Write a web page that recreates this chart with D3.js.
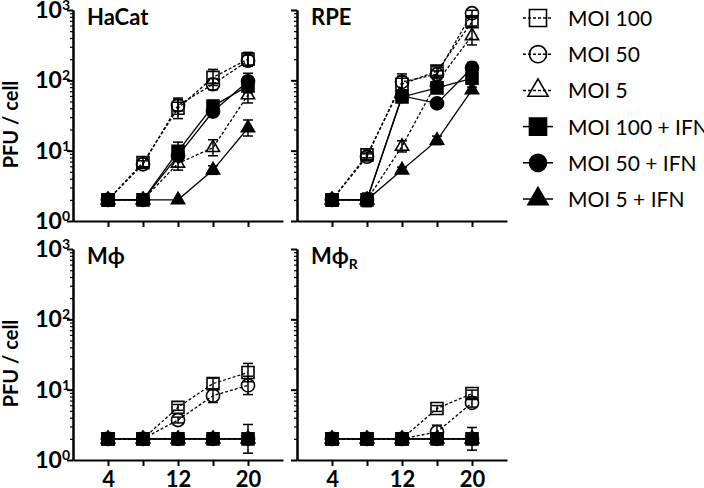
<!DOCTYPE html>
<html lang="en">
<head>
<meta charset="UTF-8">
<title>PFU / cell</title>
<script src="https://cdnjs.cloudflare.com/ajax/libs/d3/7.8.5/d3.min.js"></script>
<style>
  body { margin: 0; background: #fff; }
  text { font-family: Lato, "Open Sans", sans-serif; fill: #000; }
</style>
</head>
<body>
<script>
// hours post infection
const hours = [4, 8, 12, 16, 20];
const tickLabels = ["4", "", "12", "", "20"];
const seriesNames = ["MOI 100", "MOI 50", "MOI 5", "MOI 100 + IFN", "MOI 50 + IFN", "MOI 5 + IFN"];
const seriesShapes = ["square", "circle", "triangle", "square", "circle", "triangle"];
const seriesFilled = [false, false, false, true, true, true];
const panelNames = ["HaCat", "RPE", "Mϕ", "Mϕ"];
const panelSubs = ["", "", "", "R"];

// PFU / cell, one row per series (same order as seriesNames)
const hacat = [
    [2, 6.8, 40, 110, 200],
    [2, 6.4, 44, 88, 190],
    [2, 2, 6.6, 11, 62],
    [2, 2, 9.8, 43, 83],
    [2, 2, 8.5, 36, 97],
    [2, 2, 2, 5.3, 21]
];
const rpe = [
    [2, 8.7, 88, 135, 680],
    [2, 8.2, 95, 122, 900],
    [2, 2, 11.5, 95, 430],
    [2, 2, 58, 78, 107],
    [2, 2, 60, 47, 150],
    [2, 2, 5.3, 14, 73]
];
const mphi = [
    [2, 2, 5.6, 12.2, 17.5],
    [2, 2, 3.7, 8.2, 11.5],
    [2, 2, 2, 2, 2],
    [2, 2, 2, 2, 2],
    [2, 2, 2, 2, 2],
    [2, 2, 2, 2, 2]
];
const mphiR = [
    [2, 2, 2, 5.4, 8.8],
    [2, 2, 2, 2.5, 6.5],
    [2, 2, 2, 2, 2],
    [2, 2, 2, 2, 2],
    [2, 2, 2, 2, 2],
    [2, 2, 2, 2, 2]
];

// error bars as multiplicative spread (1 = no bar)
const hacatErr = [
    [1, 1.15, 1.4, 1.3, 1.25],
    [1, 1.12, 1.2, 1.2, 1.2],
    [1, 1, 1.25, 1.3, 1.3],
    [1, 1, 1.35, 1.2, 1.25],
    [1, 1, 1.2, 1.15, 1.3],
    [1, 1, 1, 1.15, 1.3]
];
const rpeErr = [
    [1, 1.1, 1.3, 1.15, 1.15],
    [1, 1.1, 1.3, 1.12, 1.1],
    [1, 1, 1.2, 1.15, 1.35],
    [1, 1.25, 1.1, 1.15, 1.2],
    [1, 1, 1.1, 1.1, 1.2],
    [1, 1, 1.1, 1.15, 1.1]
];
const mphiErr = [
    [1, 1, 1.1, 1.2, 1.35],
    [1, 1, 1.1, 1.25, 1.35],
    [1, 1, 1, 1, 1],
    [1, 1, 1, 1, 1.6],
    [1, 1, 1, 1, 1],
    [1, 1, 1, 1, 1]
];
const mphiRErr = [
    [1, 1, 1, 1.1, 1.12],
    [1, 1, 1, 1.25, 1.15],
    [1, 1, 1, 1, 1],
    [1, 1, 1, 1, 1.45],
    [1, 1, 1, 1, 1],
    [1, 1, 1, 1, 1]
];

const panelValues = [hacat, rpe, mphi, mphiR];
const panelErrors = [hacatErr, rpeErr, mphiErr, mphiRErr];

const width = 704, height = 488;
const plotW = 210, plotH = 211;

const svg = d3.select("body").append("svg")
    .attr("width", width).attr("height", height);

const x = d3.scaleLinear().domain([0, 24]).range([0, plotW]);
const y = d3.scaleLog().domain([1, 1000]).range([plotH, 0]);

const shapeOf = { square: d3.symbolSquare, circle: d3.symbolCircle, triangle: d3.symbolTriangle };
const plotSizes = { square: 144, circle: 135, triangle: 75 };
const legendSizes = { square: 290, circle: 230, triangle: 175 };

function marker(g, i, sizes) {
    return g.append("path")
        .attr("d", d3.symbol().type(shapeOf[seriesShapes[i]]).size(sizes[seriesShapes[i]])())
        .attr("fill", seriesFilled[i] ? "#000" : "none")
        .attr("stroke", "#000")
        .attr("stroke-width", 1.6);
}

const minorTicks = [];
[1, 10, 100].forEach(d => { for (let k = 2; k <= 9; k++) minorTicks.push(d * k); });

panelNames.forEach((name, p) => {
    const col = p % 2, row = Math.floor(p / 2);
    const g = svg.append("g")
        .attr("transform", `translate(${73 + col * 224},${10 + row * 239})`);

    // y axis
    const yMinor = g.append("g").call(d3.axisLeft(y).tickValues(minorTicks).tickSize(3).tickSizeOuter(0).tickFormat(""));
    const yMajor = g.append("g").call(d3.axisLeft(y).tickValues([1, 10, 100, 1000]).tickSize(6).tickSizeOuter(0).tickFormat(""));
    // x axis
    const xAxis = g.append("g").attr("transform", `translate(0,${plotH})`)
        .call(d3.axisBottom(x).tickValues(hours).tickSize(6).tickSizeOuter(0).tickFormat(""));
    [yMinor, yMajor, xAxis].forEach(a => {
        a.selectAll("path, line").attr("stroke", "#000").attr("stroke-width", 2);
    });
    yMinor.selectAll("line").attr("stroke-width", 1.2);

    if (row === 1) {
        xAxis.selectAll(".tick").append("text")
            .attr("y", 27)
            .attr("text-anchor", "middle")
            .attr("font-size", 22)
            .attr("font-weight", "bold")
            .text((d, i) => tickLabels[i]);
    }

    if (col === 0) {
        [1, 10, 100, 1000].forEach((v, k) => {
            const t = g.append("text")
                .attr("x", -3)
                .attr("y", y(v) + 8)
                .attr("text-anchor", "end")
                .attr("font-size", 23)
                .attr("font-weight", "bold");
            t.append("tspan").text("10");
            t.append("tspan").attr("dy", -8).attr("font-size", 14).text(String(k));
        });
        g.append("text")
            .attr("transform", `translate(-55,${plotH / 2 + 9}) rotate(-90)`)
            .attr("text-anchor", "middle")
            .attr("font-size", 20)
            .attr("font-weight", "bold")
            .text("PFU / cell");
    }

    const title = g.append("text")
        .attr("x", 14)
        .attr("font-size", 22)
        .attr("font-weight", "bold");
    title.append("tspan").attr("y", 15).text(name);
    if (panelSubs[p]) title.append("tspan").attr("dy", 5).attr("font-size", 14).text(panelSubs[p]);

    const values = panelValues[p], errs = panelErrors[p];
    const line = d3.line().x((d, i) => x(hours[i])).y(d => y(d));

    values.forEach((vals, s) => {
        const sg = g.append("g");
        // error bars
        vals.forEach((v, i) => {
            const f = errs[s][i];
            if (f <= 1) return;
            const cx = x(hours[i]);
            const lo = y(v / f), hi = y(v * f);
            sg.append("line").attr("x1", cx).attr("x2", cx).attr("y1", lo).attr("y2", hi)
                .attr("stroke", "#000").attr("stroke-width", 1.5);
            [lo, hi].forEach(yy => sg.append("line")
                .attr("x1", cx - 5).attr("x2", cx + 5).attr("y1", yy).attr("y2", yy)
                .attr("stroke", "#000").attr("stroke-width", 1.5));
        });
        sg.append("path")
            .attr("d", line(vals))
            .attr("fill", "none")
            .attr("stroke", "#000")
            .attr("stroke-width", 1.3)
            .attr("stroke-dasharray", seriesFilled[s] ? null : "3,2");
        vals.forEach((v, i) => {
            marker(sg, s, plotSizes).attr("transform", `translate(${x(hours[i])},${y(v)})`);
        });
    });
});

// legend
const legend = svg.append("g").attr("transform", "translate(538,18)");
seriesNames.forEach((name, s) => {
    const lg = legend.append("g").attr("transform", `translate(0,${s * 36.2})`);
    lg.append("line").attr("x1", -15).attr("x2", 15)
        .attr("stroke", "#000").attr("stroke-width", 1.5)
        .attr("stroke-dasharray", seriesFilled[s] ? null : "3,2");
    marker(lg, s, legendSizes);
    lg.append("text")
        .attr("x", 30).attr("y", 8)
        .attr("font-size", 21)
        .text(name);
});
</script>
</body>
</html>
